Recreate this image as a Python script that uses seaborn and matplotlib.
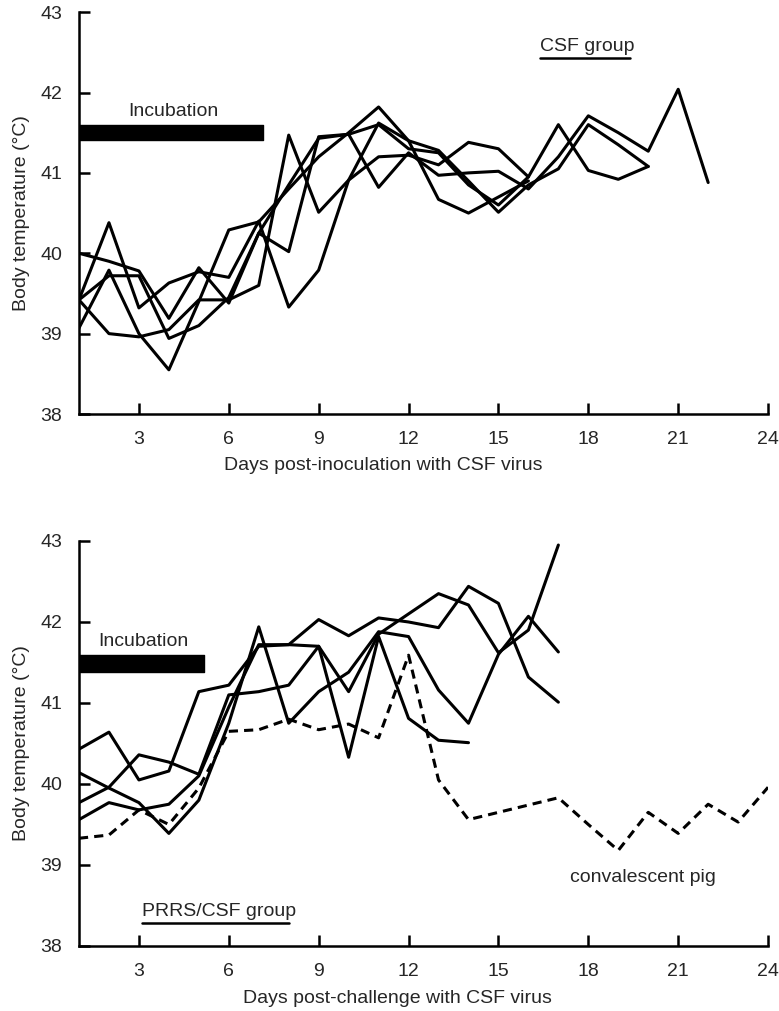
import numpy as np
import pandas as pd
import matplotlib
matplotlib.use("Agg")
import matplotlib.pyplot as plt
import seaborn as sns

# CSF group: body temperature per pig, day 1 onwards
csf_pig_a = [40.0, 39.9, 39.78, 39.19, 39.82, 39.38, 40.25, 40.02, 41.45, 41.48, 40.82,
             41.25, 40.97, 41.0, 41.02, 40.8, 41.2, 41.71, 41.5, 41.27, 42.04, 40.88]
csf_pig_b = [39.42, 40.38, 39.32, 39.63, 39.77, 39.7, 40.4, 39.33, 39.79, 40.91, 41.62,
             41.4, 41.28, 40.9, 40.51, 40.85, 41.05, 41.6, 41.35, 41.08]
csf_pig_c = [39.42, 39.0, 38.96, 39.05, 39.42, 39.42, 39.6, 41.47, 40.51, 40.91, 41.2,
             41.22, 41.1, 41.38, 41.3, 40.95, 41.6, 41.03, 40.92, 41.08]
csf_pig_d = [39.07, 39.79, 39.0, 38.55, 39.4, 40.29, 40.39, 40.8, 41.2, 41.5, 41.82,
             41.4, 40.67, 40.5, 40.7, 40.9]
csf_pig_e = [39.42, 39.72, 39.72, 38.94, 39.1, 39.45, 40.25, 40.85, 41.43, 41.48, 41.6,
             41.3, 41.25, 40.85, 40.6, 40.95]

# PRRS/CSF group
prrs_pig_a = [40.43, 40.64, 40.05, 40.16, 41.14, 41.22, 41.7, 41.72, 42.03, 41.83, 42.05,
              42.0, 41.93, 42.44, 42.23, 41.32, 41.01]
prrs_pig_b = [39.77, 39.96, 40.36, 40.27, 40.12, 41.1, 41.14, 41.22, 41.7, 41.14, 41.85,
              42.1, 42.35, 42.21, 41.62, 41.9, 42.95]
prrs_pig_c = [39.56, 39.77, 39.68, 39.75, 40.1, 40.95, 41.72, 41.72, 41.7, 40.33, 41.82,
              40.81, 40.54, 40.51]
prrs_pig_d = [40.14, 39.95, 39.77, 39.39, 39.8, 40.75, 41.94, 40.75, 41.14, 41.38, 41.88,
              41.82, 41.16, 40.75, 41.6, 42.07, 41.63]
convalescent = [39.33, 39.37, 39.68, 39.5, 39.95, 40.65, 40.67, 40.8, 40.67, 40.74, 40.57,
                41.59, 40.05, 39.56, 39.65, 39.74, 39.83, 39.5, 39.18, 39.65, 39.39, 39.75,
                39.53, 39.96]

x_ticks = [3, 6, 9, 12, 15, 18, 21, 24]
y_ticks = [38, 39, 40, 41, 42, 43]


def to_long(series):
    rows = []
    for name, vals in series.items():
        for i, v in enumerate(vals):
            rows.append({"pig": name, "day": i + 1, "temp": v})
    return pd.DataFrame(rows)


csf_df = to_long({"a": csf_pig_a, "b": csf_pig_b, "c": csf_pig_c,
                  "d": csf_pig_d, "e": csf_pig_e})
prrs_df = to_long({"a": prrs_pig_a, "b": prrs_pig_b, "c": prrs_pig_c, "d": prrs_pig_d})
conv_df = to_long({"conv": convalescent})

sns.set_style("ticks")
plt.rcParams["font.family"] = ["Liberation Sans", "DejaVu Sans"]
fs = 14

fig = plt.figure(figsize=(7.79, 10.11), dpi=100)
ax1 = fig.add_axes([0.1014, 0.5905, 0.8846, 0.3975])
ax2 = fig.add_axes([0.1014, 0.0643, 0.8846, 0.4006])


def style_axis(ax, xlabel, xlabel_pos):
    ax.set_xlim(1, 24)
    ax.set_ylim(38, 43)
    ax.set_xticks(x_ticks)
    ax.set_yticks(y_ticks)
    sns.despine(ax=ax)
    for s in ["left", "bottom"]:
        ax.spines[s].set_linewidth(1.8)
        ax.spines[s].set_color("black")
    ax.tick_params(direction="in", length=8, width=1.8, labelsize=fs, color="black")
    ax.tick_params(axis="y", pad=12)
    ax.tick_params(axis="x", pad=12)
    ax.set_xlabel(xlabel, fontsize=fs)
    ax.xaxis.set_label_coords(xlabel_pos, -0.108)
    ax.set_ylabel("Body temperature (°C)", fontsize=fs)
    ax.yaxis.set_label_coords(-0.071, 0.5)


sns.lineplot(data=csf_df, x="day", y="temp", units="pig", estimator=None,
             color="black", lw=2.2, ax=ax1, legend=False)
style_axis(ax1, "Days post-inoculation with CSF virus", 0.441)
ax1.broken_barh([(1, 6.14)], (41.41, 0.18), color="black")
ax1.text(2.65, 41.66, "Incubation", fontsize=fs, va="bottom")
ax1.text(16.4, 42.47, "CSF group", fontsize=fs, va="bottom")
ax1.plot([16.4, 19.4], [42.43, 42.43], color="black", lw=1.8)

sns.lineplot(data=prrs_df, x="day", y="temp", units="pig", estimator=None,
             color="black", lw=2.2, ax=ax2, legend=False)
sns.lineplot(data=conv_df, x="day", y="temp", color="black", lw=2.2,
             ax=ax2, legend=False, linestyle=(0, (3, 2)))
style_axis(ax2, "Days post-challenge with CSF virus", 0.462)
ax2.broken_barh([(1, 4.17)], (41.38, 0.21), color="black")
ax2.text(1.65, 41.66, "Incubation", fontsize=fs, va="bottom")
ax2.text(3.1, 38.32, "PRRS/CSF group", fontsize=fs, va="bottom")
ax2.plot([3.1, 8.0], [38.28, 38.28], color="black", lw=1.8)
ax2.text(17.4, 38.85, "convalescent pig", fontsize=fs, va="center")

fig.savefig("out.png", dpi=100)
